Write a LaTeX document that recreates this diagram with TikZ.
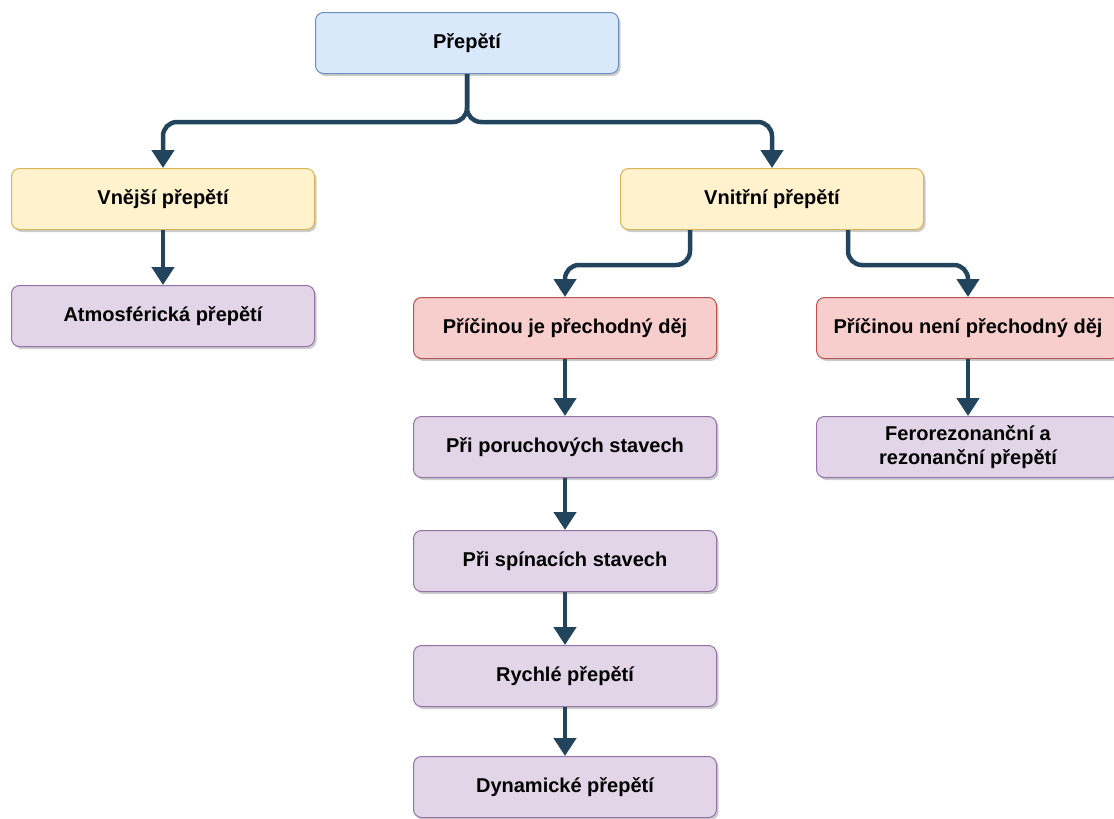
\documentclass[tikz,border=0pt]{standalone}
\usepackage{fontspec}
\setmainfont{Liberation Sans}
\usepackage{xcolor}
\usepackage{tikz}
\usetikzlibrary{arrows.meta, shadows}

\definecolor{linkc}{RGB}{35,68,93}
\definecolor{bluef}{RGB}{218,232,252}
\definecolor{blued}{RGB}{108,142,191}
\definecolor{yellowf}{RGB}{255,242,204}
\definecolor{yellowd}{RGB}{214,182,86}
\definecolor{redf}{RGB}{248,206,204}
\definecolor{redd}{RGB}{184,84,80}
\definecolor{purplef}{RGB}{225,213,231}
\definecolor{purpled}{RGB}{150,115,166}

\tikzset{
  box/.style={draw, rounded corners=8pt, line width=1pt, minimum width=303pt, minimum height=61pt,
    align=center, font=\fontsize{20}{24}\selectfont\bfseries,
    drop shadow={shadow xshift=2pt, shadow yshift=-2.5pt, fill=black!40}},
  topbox/.style={box, fill=bluef, draw=blued},
  mainbox/.style={box, fill=yellowf, draw=yellowd},
  causebox/.style={box, fill=redf, draw=redd},
  leafbox/.style={box, fill=purplef, draw=purpled},
  link/.style={draw=linkc, line width=4.5pt, rounded corners=14pt,
    -{Triangle[width=22pt,length=18pt]}},
}

\begin{document}
\begin{tikzpicture}[x=1pt, y=-1pt]
\useasboundingbox (0,0) rectangle (1114,819);
\clip (0,0) rectangle (1114,819);

\node[topbox] (prepeti) at (467,43) {Přepětí};

\node[mainbox] (vnejsi) at (163,199) {Vnější přepětí};
\node[mainbox] (vnitrni) at (772,199) {Vnitřní přepětí};

\node[leafbox] (atmo) at (163,316) {Atmosférická přepětí};

\node[causebox] (prechod) at (565,328) {Příčinou je přechodný děj};
\node[causebox] (neprechod) at (968,328) {Příčinou není přechodný děj};

\node[leafbox] (porucha) at (565,447) {Při poruchových stavech};
\node[leafbox] (spinani) at (565,561) {Při spínacích stavech};
\node[leafbox] (rychle) at (565,676) {Rychlé přepětí};
\node[leafbox] (dynam) at (565,787) {Dynamické přepětí};
\node[leafbox] (ferro) at (968,447) {Ferorezonanční a\\rezonanční přepětí};

% top split
\draw[link] (prepeti.south) -- ++(0,48) -| (vnejsi.north);
\draw[link] (prepeti.south) -- ++(0,48) -| (vnitrni.north);

\draw[link] (vnejsi) -- (atmo);

% inner branches
\draw[link] ([xshift=-82]vnitrni.south) -- ++(0,35) -| (prechod.north);
\draw[link] ([xshift=76]vnitrni.south) -- ++(0,35) -| (neprechod.north);

\draw[link] (prechod) -- (porucha);
\draw[link] (porucha) -- (spinani);
\draw[link] (spinani) -- (rychle);
\draw[link] (rychle) -- (dynam);
\draw[link] (neprechod) -- (ferro);
\end{tikzpicture}
\end{document}
